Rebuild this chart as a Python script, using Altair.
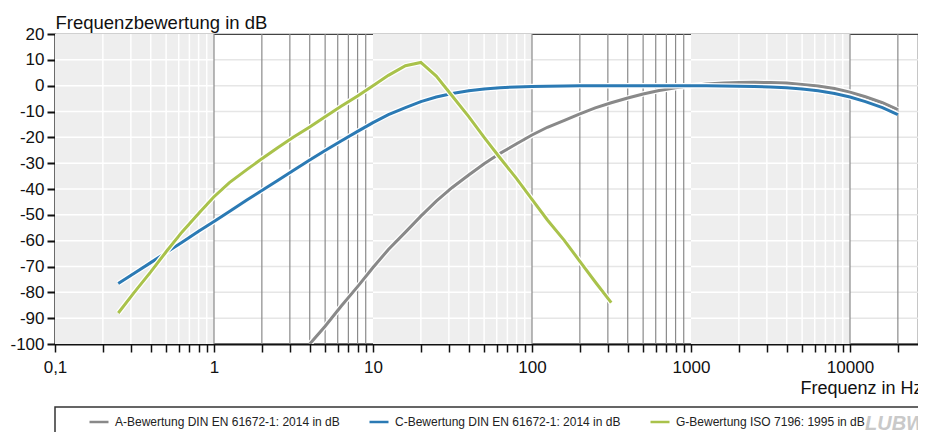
import altair as alt
import pandas as pd

# ---------------- data ----------------
name_A = "A-Bewertung DIN EN 61672-1: 2014 in dB"
name_C = "C-Bewertung DIN EN 61672-1: 2014 in dB"
name_G = "G-Bewertung ISO 7196: 1995 in dB"

freq_A = [4, 5, 6.3, 8, 10, 12.5, 16, 20, 25, 31.5, 40, 50, 63, 80, 100, 125, 160, 200, 250, 315,
          400, 500, 630, 800, 1000, 1250, 1600, 2000, 2500, 3150, 4000, 5000, 6300, 8000,
          10000, 12500, 16000, 20000]
val_A = [-100.0, -93.1, -85.4, -77.8, -70.4, -63.4, -56.7, -50.5, -44.7, -39.4, -34.6, -30.2, -26.2,
         -22.5, -19.1, -16.1, -13.4, -10.9, -8.6, -6.6, -4.8, -3.2, -1.9, -0.8, 0.0, 0.6, 1.0, 1.2,
         1.3, 1.2, 1.0, 0.5, -0.1, -1.1, -2.5, -4.3, -6.6, -9.3]

freq_C = [0.25, 0.315, 0.4, 0.5, 0.63, 0.8, 1, 1.25, 1.6, 2, 2.5, 3.15, 4, 5, 6.3, 8,
          10, 12.5, 16, 20, 25, 31.5, 40, 50, 63, 80, 100, 125, 160, 200, 250, 315, 400, 500,
          630, 800, 1000, 1250, 1600, 2000, 2500, 3150, 4000, 5000, 6300, 8000,
          10000, 12500, 16000, 20000]
val_C = [-76.6, -72.6, -68.5, -64.6, -60.6, -56.4, -52.6, -48.7, -44.4, -40.6, -36.8, -32.8, -28.8,
         -25.1, -21.4, -17.7, -14.3, -11.2, -8.5, -6.2, -4.4, -3.0, -2.0, -1.3, -0.8, -0.5, -0.3,
         -0.2, -0.1, 0.0, 0.0, 0.0, 0.0, 0.0, 0.0, 0.0, 0.0, 0.0, -0.1, -0.2, -0.3, -0.5, -0.8,
         -1.3, -2.0, -3.0, -4.4, -6.2, -8.5, -11.2]

freq_G = [0.25, 0.315, 0.4, 0.5, 0.63, 0.8, 1, 1.25, 1.6, 2, 2.5, 3.15, 4, 5, 6.3, 8,
          10, 12.5, 16, 20, 25, 31.5, 40, 50, 63, 80, 100, 125, 160, 200, 250, 315]
val_G = [-88.0, -80.0, -72.1, -64.3, -56.6, -49.5, -43.0, -37.5, -32.6, -28.3, -24.1, -20.0,
         -16.0, -12.0, -8.0, -4.0, 0.0, 4.0, 7.7, 9.0, 3.7, -4.0, -12.0, -20.0, -28.0, -36.0,
         -44.0, -52.0, -60.0, -68.0, -76.0, -84.0]

series_names = [name_A, name_C, name_G]
series_colors = ["#898989", "#2b7ab4", "#a9c24b"]

band_lo = [0.1, 10, 1000]
band_hi = [1, 100, 10000]
grid_db = [-90, -80, -70, -60, -50, -40, -30, -20, -10, 0, 10]
y_ticks = [20, 10, 0, -10, -20, -30, -40, -50, -60, -70, -80, -90, -100]

x_ticks = [round(n * 10.0 ** k, 3) for k in range(-1, 5) for n in range(1, 10)]
white_vlines = [round(n * 10.0 ** k, 3) for k in (-1, 1, 3) for n in range(2, 10)]
dark_vlines = [round(n * 10.0 ** k, 3) for k in (0, 2, 4) for n in range(1, 10)]

# ---------------- tables ----------------
curves = pd.DataFrame({
    "f": freq_A + freq_C + freq_G,
    "db": val_A + val_C + val_G,
    "s": [name_A] * len(freq_A) + [name_C] * len(freq_C) + [name_G] * len(freq_G),
})
bands = pd.DataFrame({"lo": band_lo, "hi": band_hi})
hgrid = pd.DataFrame({"db": grid_db})
hseg = pd.DataFrame([{"lo": lo, "hi": hi, "db": d} for lo, hi in zip(band_lo, band_hi) for d in grid_db])
wv = pd.DataFrame({"f": white_vlines})
dv = pd.DataFrame({"f": dark_vlines})

# layout: 159 px per decade, plot runs to the right edge of the page
PX_DEC = 159
W, H = 863, 310
x_max = 10 ** (W / PX_DEC - 1)
xscale = alt.Scale(type="log", domain=[0.1, x_max], nice=False)
yscale = alt.Scale(domain=[-100, 20], nice=False)

label_expr = ("datum.value < 0.15 && datum.value > 0.05 ? '0,1' : "
              "(indexof([1,10,100,1000,10000], datum.value) >= 0 ? '' + datum.value : '')")

x_axis = alt.Axis(values=x_ticks, labelExpr=label_expr, grid=False, tickSize=8, tickWidth=1.5,
                  tickColor="#111", domainColor="#111", domainWidth=2, labelFontSize=17,
                  labelColor="#111", labelPadding=7, labelFlush=False, labelOverlap=False,
                  title="Frequenz in Hz", titleX=745, titleY=49, titleAlign="left",
                  titleBaseline="alphabetic", titleFontSize=18, titleFontWeight="normal",
                  titleColor="#111")
y_axis = alt.Axis(values=y_ticks, labelExpr="'' + datum.value", grid=False, tickSize=8,
                  tickWidth=2, tickColor="#111", domainColor="#111", domainWidth=2,
                  labelFontSize=17, labelColor="#111", labelPadding=3, labelOverlap=False,
                  labelBound=False,
                  title="Frequenzbewertung in dB", titleAngle=0, titleX=0, titleY=-6,
                  titleAlign="left", titleBaseline="alphabetic", titleFontSize=18.5,
                  titleFontWeight="normal", titleColor="#111")


def X(field):
    return alt.X(field, type="quantitative", scale=xscale, axis=x_axis)


def Y(field):
    return alt.Y(field, type="quantitative", scale=yscale, axis=y_axis)


grid_light = alt.Chart(hgrid).mark_rule(color="#e6e6e6", strokeWidth=1.5).encode(y=Y("db"))
band_rects = alt.Chart(bands).mark_rect(color="#eeeeee").encode(x=X("lo"), x2="hi:Q")
grid_white = alt.Chart(hseg).mark_rule(color="white", strokeWidth=1.5).encode(
    x=X("lo"), x2="hi:Q", y=Y("db"))
vl_white = alt.Chart(wv).mark_rule(color="white", strokeWidth=1.5).encode(x=X("f"))
vl_dark = alt.Chart(dv).mark_rule(color="#8a8a8a", strokeWidth=1.2).encode(x=X("f"))

color_enc = alt.Color("s:N", scale=alt.Scale(domain=series_names, range=series_colors),
                      legend=alt.Legend(orient="none", legendX=33, legendY=377,
                                        direction="horizontal", title=None,
                                        symbolType="stroke", symbolSize=361,
                                        symbolStrokeWidth=2.5, labelFontSize=12,
                                        labelColor="#222", labelOffset=5,
                                        columnPadding=24, labelLimit=400))

line_layers = []
for nm in series_names:
    base = alt.Chart(curves).transform_filter(alt.datum.s == nm)
    line_layers.append(base.mark_line(color="white", strokeWidth=5.5, clip=True).encode(
        x=X("f"), y=Y("db")))
    line_layers.append(base.mark_line(strokeWidth=3, clip=True).encode(
        x=X("f"), y=Y("db"), color=color_enc))

one = pd.DataFrame({"k": [0]})
legend_box = alt.Chart(one).mark_rect(fill="white", stroke="#333", strokeWidth=1.5).encode(
    x=alt.value(0), x2=alt.value(1100), y=alt.value(373), y2=alt.value(430))
logo = alt.Chart(one).mark_text(text="LUBW", fontStyle="italic", fontWeight="bold",
                                fontSize=20, color="#c9c9c9", align="left",
                                baseline="alphabetic").encode(x=alt.value(810), y=alt.value(396))

chart = alt.layer(grid_light, band_rects, grid_white, vl_white, vl_dark, *line_layers,
                  legend_box, logo).properties(
    width=W, height=H,
    autosize=alt.AutoSizeParams(type="none"),
    padding={"left": 47, "top": 26, "right": 0, "bottom": 88},
).configure(font="Liberation Sans").configure_view(stroke="#444", strokeWidth=1.2)

chart.save("out.html", embed_options={"renderer": "svg", "actions": False})
